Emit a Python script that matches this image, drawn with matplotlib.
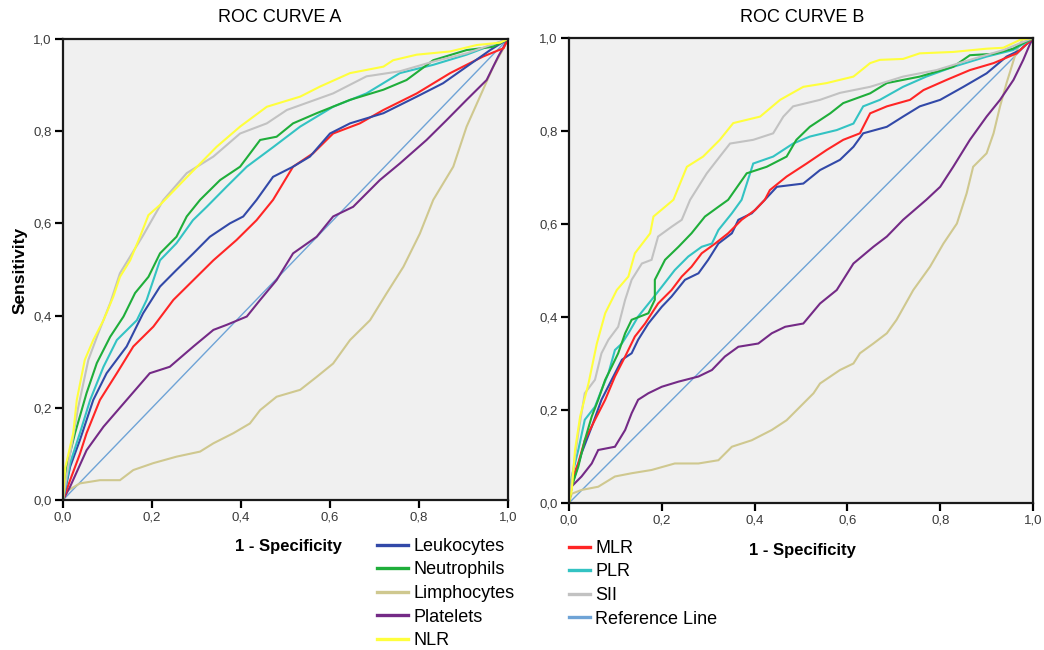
import matplotlib
matplotlib.use("Agg")
import matplotlib.pyplot as plt
from matplotlib.ticker import FuncFormatter
from matplotlib.lines import Line2D

plt.rcParams['font.family'] = ['Liberation Sans', 'DejaVu Sans']

# ---- colours of the series ----
names = ['Leukocytes', 'Neutrophils', 'Limphocytes', 'Platelets', 'NLR',
         'MLR', 'PLR', 'SII', 'Reference Line']
colors = {'Leukocytes': '#3249a8', 'Neutrophils': '#1fae3a', 'Limphocytes': '#cfc88f',
          'Platelets': '#742a86', 'NLR': '#ffff3c', 'MLR': '#ff2525',
          'PLR': '#33c3c3', 'SII': '#c2c2c2', 'Reference Line': '#6ea3d6'}

# ---- ROC curve A (1 - specificity, sensitivity) ----
a_nlr_x = [0, 0.005, 0.023, 0.031, 0.049, 0.068, 0.091, 0.113, 0.128, 0.151, 0.173, 0.192, 0.218,
           0.278, 0.345, 0.398, 0.458, 0.533, 0.578, 0.645, 0.72, 0.742, 0.795, 0.87, 0.93, 0.982, 1]
a_nlr_y = [0, 0.07, 0.145, 0.217, 0.304, 0.347, 0.39, 0.441, 0.484, 0.52, 0.571, 0.618, 0.64,
           0.70, 0.766, 0.81, 0.853, 0.875, 0.897, 0.926, 0.94, 0.954, 0.966, 0.973, 0.987, 0.992, 1]
a_sii_x = [0, 0.016, 0.034, 0.057, 0.079, 0.106, 0.128, 0.18, 0.225, 0.278, 0.338, 0.398, 0.458,
           0.503, 0.607, 0.682, 0.757, 0.832, 0.907, 1]
a_sii_y = [0, 0.1, 0.2, 0.304, 0.361, 0.427, 0.492, 0.574, 0.65, 0.709, 0.745, 0.795, 0.817,
           0.846, 0.882, 0.919, 0.93, 0.951, 0.969, 1]
a_neu_x = [0, 0.008, 0.027, 0.053, 0.076, 0.106, 0.136, 0.162, 0.192, 0.218, 0.255, 0.278, 0.308,
           0.353, 0.398, 0.443, 0.48, 0.517, 0.57, 0.645, 0.72, 0.772, 0.832, 0.907, 0.966, 1]
a_neu_y = [0, 0.072, 0.145, 0.232, 0.297, 0.354, 0.398, 0.449, 0.484, 0.535, 0.571, 0.615, 0.651,
           0.694, 0.723, 0.781, 0.788, 0.817, 0.839, 0.868, 0.89, 0.911, 0.954, 0.976, 0.983, 1]
a_plr_x = [0, 0.016, 0.038, 0.061, 0.091, 0.121, 0.166, 0.188, 0.218, 0.255, 0.292, 0.323, 0.368,
           0.413, 0.473, 0.533, 0.607, 0.682, 0.757, 0.832, 0.907, 1]
a_plr_y = [0, 0.08, 0.145, 0.217, 0.289, 0.347, 0.39, 0.434, 0.52, 0.557, 0.607, 0.636, 0.68,
           0.723, 0.766, 0.81, 0.853, 0.882, 0.926, 0.944, 0.966, 1]
a_leu_x = [0, 0.016, 0.038, 0.068, 0.098, 0.143, 0.18, 0.218, 0.255, 0.293, 0.33, 0.375, 0.405,
           0.435, 0.472, 0.517, 0.555, 0.6, 0.645, 0.72, 0.795, 0.854, 0.907, 0.96, 1]
a_leu_y = [0, 0.072, 0.13, 0.217, 0.275, 0.333, 0.405, 0.463, 0.499, 0.535, 0.571, 0.6, 0.615,
           0.651, 0.701, 0.723, 0.745, 0.795, 0.817, 0.839, 0.875, 0.904, 0.94, 0.976, 1]
a_mlr_x = [0, 0.016, 0.038, 0.053, 0.083, 0.121, 0.158, 0.203, 0.248, 0.293, 0.338, 0.39, 0.435,
           0.472, 0.517, 0.562, 0.607, 0.667, 0.72, 0.795, 0.87, 0.944, 0.99, 1]
a_mlr_y = [0, 0.043, 0.1, 0.145, 0.217, 0.275, 0.333, 0.376, 0.434, 0.477, 0.52, 0.564, 0.607,
           0.651, 0.723, 0.752, 0.795, 0.817, 0.846, 0.882, 0.926, 0.962, 0.98, 1]
a_pla_x = [0, 0.016, 0.053, 0.091, 0.143, 0.195, 0.24, 0.293, 0.338, 0.368, 0.413, 0.443, 0.48,
           0.517, 0.57, 0.607, 0.652, 0.712, 0.757, 0.817, 0.862, 0.907, 0.952, 0.978, 1]
a_pla_y = [0, 0.029, 0.108, 0.159, 0.217, 0.275, 0.289, 0.333, 0.369, 0.38, 0.398, 0.434, 0.477,
           0.535, 0.571, 0.615, 0.636, 0.694, 0.73, 0.781, 0.824, 0.868, 0.911, 0.962, 1]
a_lim_x = [0, 0.01, 0.038, 0.083, 0.128, 0.158, 0.203, 0.255, 0.308, 0.338, 0.383, 0.42, 0.443,
           0.48, 0.533, 0.57, 0.607, 0.645, 0.69, 0.727, 0.765, 0.802, 0.832, 0.877, 0.907, 0.937,
           0.967, 0.99, 1]
a_lim_y = [0, 0.02, 0.036, 0.043, 0.043, 0.065, 0.08, 0.094, 0.105, 0.123, 0.145, 0.166, 0.195,
           0.224, 0.239, 0.267, 0.296, 0.347, 0.39, 0.448, 0.506, 0.578, 0.651, 0.723, 0.81, 0.875,
           0.94, 0.98, 1]

# ---- ROC curve B ----
b_nlr_x = [0, 0.006, 0.013, 0.024, 0.042, 0.06, 0.078, 0.103, 0.128, 0.142, 0.175, 0.182, 0.225,
           0.254, 0.289, 0.325, 0.354, 0.412, 0.455, 0.505, 0.555, 0.613, 0.649, 0.67, 0.72, 0.756,
           0.828, 0.9, 0.936, 0.972, 1]
b_nlr_y = [0, 0.028, 0.114, 0.186, 0.257, 0.343, 0.408, 0.458, 0.487, 0.537, 0.58, 0.616, 0.652,
           0.723, 0.745, 0.781, 0.817, 0.831, 0.867, 0.895, 0.903, 0.917, 0.946, 0.953, 0.955, 0.967,
           0.97, 0.977, 0.979, 0.996, 1]
b_sii_x = [0, 0.006, 0.02, 0.034, 0.056, 0.07, 0.085, 0.106, 0.121, 0.135, 0.157, 0.178, 0.192,
           0.221, 0.243, 0.261, 0.297, 0.325, 0.347, 0.397, 0.44, 0.462, 0.483, 0.541, 0.584, 0.649,
           0.72, 0.792, 0.864, 0.936, 1]
b_sii_y = [0, 0.05, 0.15, 0.236, 0.265, 0.322, 0.351, 0.379, 0.437, 0.48, 0.515, 0.523, 0.573,
           0.594, 0.609, 0.652, 0.709, 0.745, 0.773, 0.781, 0.795, 0.831, 0.853, 0.867, 0.882, 0.895,
           0.917, 0.931, 0.953, 0.974, 1]
b_neu_x = [0, 0.006, 0.02, 0.034, 0.049, 0.063, 0.078, 0.092, 0.106, 0.121, 0.135, 0.171, 0.185,
           0.185, 0.207, 0.236, 0.264, 0.293, 0.322, 0.343, 0.383, 0.426, 0.469, 0.49, 0.519, 0.563,
           0.591, 0.649, 0.685, 0.756, 0.828, 0.864, 0.915, 0.957, 1]
b_neu_y = [0, 0.036, 0.078, 0.135, 0.186, 0.222, 0.265, 0.293, 0.322, 0.365, 0.394, 0.408, 0.437,
           0.48, 0.523, 0.551, 0.58, 0.616, 0.637, 0.652, 0.709, 0.723, 0.745, 0.781, 0.809, 0.838,
           0.86, 0.881, 0.903, 0.917, 0.938, 0.963, 0.966, 0.977, 1]
b_plr_x = [0, 0.006, 0.02, 0.034, 0.056, 0.07, 0.085, 0.099, 0.114, 0.128, 0.149, 0.178, 0.2,
           0.228, 0.257, 0.286, 0.308, 0.322, 0.351, 0.372, 0.397, 0.44, 0.483, 0.519, 0.577, 0.613,
           0.634, 0.67, 0.72, 0.77, 0.828, 0.9, 0.957, 1]
b_plr_y = [0, 0.057, 0.114, 0.179, 0.207, 0.243, 0.279, 0.329, 0.343, 0.365, 0.401, 0.437, 0.465,
           0.501, 0.53, 0.551, 0.558, 0.587, 0.623, 0.652, 0.73, 0.745, 0.773, 0.788, 0.802, 0.816,
           0.853, 0.867, 0.895, 0.917, 0.938, 0.96, 0.974, 1]
b_mlr_x = [0, 0.006, 0.02, 0.034, 0.056, 0.078, 0.099, 0.121, 0.142, 0.164, 0.192, 0.221, 0.243,
           0.264, 0.286, 0.315, 0.343, 0.372, 0.401, 0.422, 0.433, 0.469, 0.512, 0.555, 0.591, 0.627,
           0.649, 0.685, 0.735, 0.764, 0.814, 0.864, 0.915, 0.965, 1]
b_mlr_y = [0, 0.05, 0.086, 0.135, 0.179, 0.222, 0.272, 0.315, 0.358, 0.386, 0.429, 0.458, 0.487,
           0.508, 0.537, 0.558, 0.58, 0.609, 0.63, 0.652, 0.673, 0.702, 0.73, 0.759, 0.781, 0.795,
           0.838, 0.853, 0.867, 0.888, 0.91, 0.931, 0.946, 0.967, 1]
b_leu_x = [0, 0.006, 0.027, 0.049, 0.07, 0.092, 0.114, 0.135, 0.149, 0.171, 0.2, 0.221, 0.25,
           0.279, 0.3, 0.322, 0.351, 0.365, 0.394, 0.422, 0.448, 0.505, 0.541, 0.584, 0.613, 0.634,
           0.685, 0.72, 0.756, 0.8, 0.85, 0.9, 0.943, 0.972, 1]
b_leu_y = [0, 0.036, 0.107, 0.164, 0.222, 0.265, 0.308, 0.322, 0.351, 0.386, 0.422, 0.444, 0.48,
           0.494, 0.523, 0.558, 0.58, 0.609, 0.623, 0.652, 0.68, 0.687, 0.716, 0.738, 0.766, 0.795,
           0.809, 0.831, 0.853, 0.867, 0.895, 0.924, 0.96, 0.974, 1]
b_pla_x = [0, 0.006, 0.027, 0.049, 0.063, 0.099, 0.121, 0.135, 0.149, 0.171, 0.2, 0.236, 0.279,
           0.308, 0.336, 0.365, 0.408, 0.437, 0.466, 0.505, 0.541, 0.577, 0.613, 0.656, 0.685, 0.72,
           0.77, 0.8, 0.828, 0.864, 0.9, 0.929, 0.958, 0.979, 0.993, 1]
b_pla_y = [0, 0.036, 0.057, 0.085, 0.114, 0.121, 0.157, 0.193, 0.222, 0.236, 0.25, 0.261, 0.272,
           0.286, 0.315, 0.336, 0.343, 0.365, 0.379, 0.386, 0.429, 0.458, 0.515, 0.551, 0.573, 0.609,
           0.652, 0.68, 0.723, 0.781, 0.831, 0.867, 0.91, 0.953, 0.986, 1]
b_lim_x = [0, 0.006, 0.027, 0.063, 0.099, 0.135, 0.178, 0.228, 0.279, 0.322, 0.351, 0.394, 0.437,
           0.469, 0.498, 0.527, 0.541, 0.584, 0.613, 0.627, 0.656, 0.685, 0.706, 0.742, 0.778, 0.807,
           0.836, 0.857, 0.871, 0.9, 0.915, 0.929, 0.943, 0.965, 0.979, 1]
b_lim_y = [0, 0.02, 0.028, 0.035, 0.057, 0.064, 0.071, 0.085, 0.085, 0.092, 0.121, 0.135, 0.157,
           0.178, 0.207, 0.236, 0.257, 0.286, 0.3, 0.322, 0.343, 0.365, 0.394, 0.458, 0.508, 0.558,
           0.601, 0.666, 0.723, 0.752, 0.795, 0.853, 0.903, 0.974, 1.0, 1]

ref_x = [0, 1]
ref_y = [0, 1]

curves_a = {'Reference Line': (ref_x, ref_y), 'Limphocytes': (a_lim_x, a_lim_y),
            'Platelets': (a_pla_x, a_pla_y), 'MLR': (a_mlr_x, a_mlr_y),
            'Leukocytes': (a_leu_x, a_leu_y), 'PLR': (a_plr_x, a_plr_y),
            'Neutrophils': (a_neu_x, a_neu_y), 'SII': (a_sii_x, a_sii_y),
            'NLR': (a_nlr_x, a_nlr_y)}
curves_b = {'Reference Line': (ref_x, ref_y), 'Limphocytes': (b_lim_x, b_lim_y),
            'Platelets': (b_pla_x, b_pla_y), 'Leukocytes': (b_leu_x, b_leu_y),
            'MLR': (b_mlr_x, b_mlr_y), 'PLR': (b_plr_x, b_plr_y),
            'Neutrophils': (b_neu_x, b_neu_y), 'SII': (b_sii_x, b_sii_y),
            'NLR': (b_nlr_x, b_nlr_y)}

W, H = 1044, 650
fig = plt.figure(figsize=(W / 100, H / 100), dpi=100)

comma = FuncFormatter(lambda v, p: ('%.1f' % v).replace('.', ','))


def make_axes(left, top, right, bottom, curves):
    ax = fig.add_axes([left / W, 1 - bottom / H, (right - left) / W, (bottom - top) / H])
    ax.set_facecolor('#f0f0f0')
    for name, (xs, ys) in curves.items():
        lw = 1.0 if name == 'Reference Line' else 1.5
        ax.plot(xs, ys, color=colors[name], lw=lw, solid_joinstyle='miter')
    ax.set_xlim(0, 1)
    ax.set_ylim(0, 1)
    ax.set_xticks([0, 0.2, 0.4, 0.6, 0.8, 1.0])
    ax.set_yticks([0, 0.2, 0.4, 0.6, 0.8, 1.0])
    ax.xaxis.set_major_formatter(comma)
    ax.yaxis.set_major_formatter(comma)
    ax.tick_params(direction='out', length=6, width=1.6, labelsize=9.5,
                   labelcolor='#3a3a3a', pad=2)
    for s in ax.spines.values():
        s.set_linewidth(1.6)
        s.set_color('#1a1a1a')
    return ax


ax_a = make_axes(63, 39, 508, 500, curves_a)
ax_b = make_axes(569, 38, 1033, 503, curves_b)

fig.text(280 / W, 1 - 17 / H, 'ROC CURVE A', ha='center', va='center', fontsize=13)
fig.text(802 / W, 1 - 17 / H, 'ROC CURVE B', ha='center', va='center', fontsize=13)
fig.text(20 / W, 1 - 270 / H, 'Sensitivity', ha='center', va='center', rotation=90,
         fontsize=12.5, fontweight='bold')
fig.text(288 / W, 1 - 546 / H, '1 - Specificity', ha='center', va='center',
         fontsize=12, fontweight='bold')
fig.text(802 / W, 1 - 550 / H, '1 - Specificity', ha='center', va='center',
         fontsize=12, fontweight='bold')

left_names = names[:5]
right_names = names[5:]
h_left = [Line2D([], [], color=colors[n], lw=2.4) for n in left_names]
h_right = [Line2D([], [], color=colors[n], lw=2.4) for n in right_names]
fig.legend(h_left, left_names, loc='upper left', bbox_to_anchor=(377 / W, 1 - 538 / H),
           frameon=False, fontsize=13, handlelength=1.7, handletextpad=0.3,
           labelspacing=0.36, borderpad=0, borderaxespad=0)
fig.legend(h_right, right_names, loc='upper left', bbox_to_anchor=(569 / W, 1 - 540 / H),
           frameon=False, fontsize=13, handlelength=1.15, handletextpad=0.3,
           labelspacing=0.36, borderpad=0, borderaxespad=0)

fig.savefig('out.png', dpi=100)
